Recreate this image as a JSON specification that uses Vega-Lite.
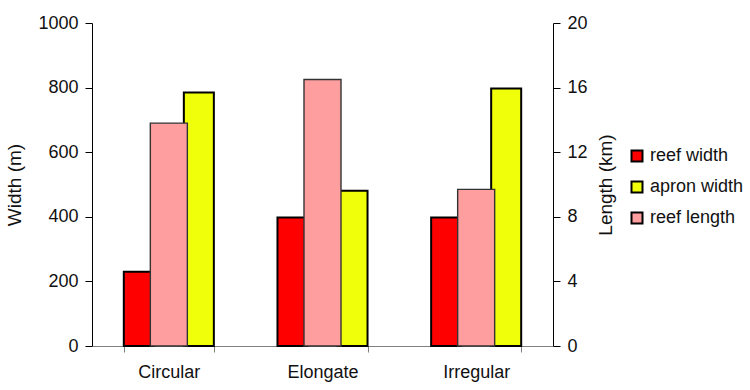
{
  "$schema": "https://vega.github.io/schema/vega-lite/v6.json",
  "width": 461,
  "height": 323,
  "autosize": {"type": "none"},
  "padding": {"left": 92, "top": 23, "right": 197, "bottom": 44},
  "background": "white",
  "data": {
    "values": [
      {"shape": "Circular", "series": "reef width", "value": 230},
      {"shape": "Circular", "series": "reef length", "value": 13.8},
      {"shape": "Circular", "series": "apron width", "value": 785},
      {"shape": "Elongate", "series": "reef width", "value": 398},
      {"shape": "Elongate", "series": "reef length", "value": 16.5},
      {"shape": "Elongate", "series": "apron width", "value": 481},
      {"shape": "Irregular", "series": "reef width", "value": 398},
      {"shape": "Irregular", "series": "reef length", "value": 9.7},
      {"shape": "Irregular", "series": "apron width", "value": 797}
    ]
  },
  "encoding": {
    "x": {
      "field": "shape",
      "type": "nominal",
      "sort": ["Circular", "Elongate", "Irregular"],
      "scale": {"paddingInner": 0.414, "paddingOuter": 0.207},
      "axis": {
        "title": null,
        "labelAngle": 0,
        "tickBand": "extent",
        "tickSize": 6,
        "domainColor": "#808080",
        "tickColor": "#808080",
        "labelPadding": 11
      }
    },
    "color": {
      "field": "series",
      "type": "nominal",
      "scale": {
        "domain": ["reef width", "apron width", "reef length"],
        "range": ["#FF0000", "#F0FF0A", "#FF9E9E"]
      },
      "legend": {
        "title": null,
        "orient": "none",
        "legendX": 536,
        "legendY": 124,
        "symbolType": "square",
        "symbolSize": 121,
        "symbolStrokeColor": "black",
        "symbolStrokeWidth": 2,
        "symbolOpacity": 1,
        "labelFontSize": 18,
        "labelOffset": 4,
        "rowPadding": 11
      }
    }
  },
  "layer": [
    {
      "transform": [{"filter": "datum.series !== 'reef length'"}],
      "mark": {"type": "bar", "stroke": "black", "strokeWidth": 2, "opacity": 1},
      "encoding": {
        "xOffset": {
          "field": "series",
          "type": "nominal",
          "scale": {"domain": ["reef width", "reef length", "apron width"], "paddingInner": 0, "paddingOuter": 0}
        },
        "y": {
          "field": "value",
          "type": "quantitative",
          "scale": {"domain": [0, 1000], "nice": false},
          "axis": {
            "title": "Width (m)",
            "orient": "left",
            "values": [0, 200, 400, 600, 800, 1000],
            "format": "d",
            "grid": false,
            "tickSize": 7,
            "tickColor": "black",
            "domainColor": "black",
            "labelPadding": 7,
            "titlePadding": 13
          }
        }
      }
    },
    {
      "transform": [{"filter": "datum.series === 'reef length'"}],
      "mark": {"type": "bar", "stroke": "#333333", "strokeWidth": 1.4, "opacity": 1, "width": {"band": 0.411}},
      "encoding": {
        "y": {
          "field": "value",
          "type": "quantitative",
          "scale": {"domain": [0, 20], "nice": false},
          "axis": {
            "title": "Length (km)",
            "orient": "right",
            "values": [0, 4, 8, 12, 16, 20],
            "format": "d",
            "grid": false,
            "tickSize": 7,
            "tickColor": "black",
            "domainColor": "black",
            "labelPadding": 7,
            "titlePadding": 9,
            "titleAngle": 270,
            "titleBaseline": "top"
          }
        }
      }
    }
  ],
  "resolve": {"scale": {"y": "independent"}, "axis": {"y": "independent"}},
  "config": {
    "view": {"stroke": null},
    "font": "Liberation Sans",
    "axis": {
      "labelFont": "Liberation Sans",
      "titleFont": "Liberation Sans",
      "labelFontSize": 18,
      "titleFontSize": 19,
      "titleFontWeight": "normal",
      "labelColor": "#111111",
      "titleColor": "#111111",
      "domainWidth": 1,
      "tickWidth": 1
    },
    "legend": {"labelFont": "Liberation Sans", "labelColor": "#111111"}
  }
}
